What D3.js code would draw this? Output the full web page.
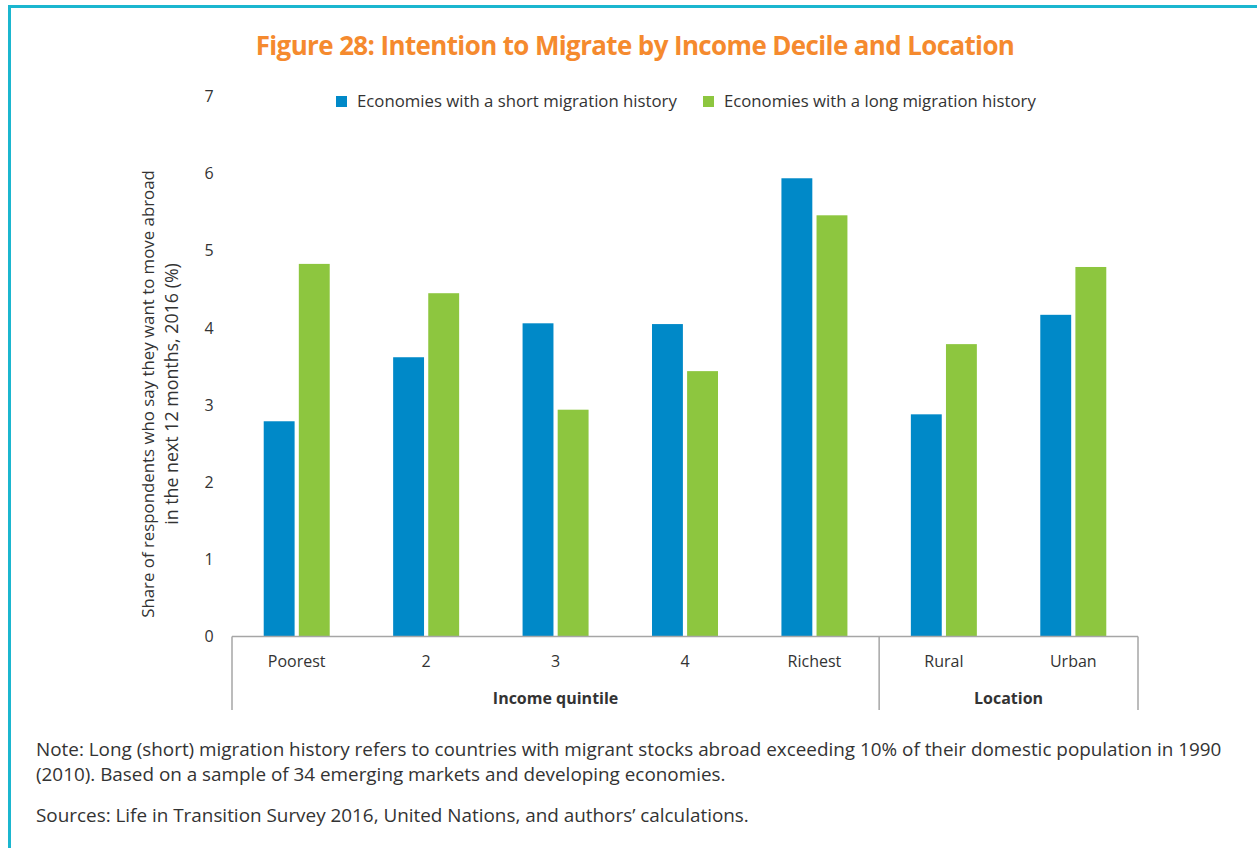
<!DOCTYPE html>
<html>
<head>
<meta charset="utf-8">
<script src="https://cdn.jsdelivr.net/npm/d3@7"></script>
<style>
  body { margin: 0; background: #fff; }
  svg { display: block; font-family: "Open Sans", Lato, sans-serif; }
</style>
</head>
<body>
<script>
(function() {

    // values (percent)
    var categories = ["Poorest", "2", "3", "4", "Richest", "Rural", "Urban"];
    var shortHistory = [2.79, 3.62, 4.06, 4.05, 5.94, 2.88, 4.17];
    var longHistory  = [4.83, 4.45, 2.94, 3.44, 5.46, 3.79, 4.79];
    var seriesNames = ["Economies with a short migration history", "Economies with a long migration history"];
    var seriesColors = ["#0089c8", "#8dc63f"];
    var groups = [
        {name: "Income quintile", from: 0, to: 4},
        {name: "Location", from: 5, to: 6}
    ];
    var yTicks = [0, 1, 2, 3, 4, 5, 6, 7];

    var width = 1257,
        height = 848,
        left = 232,
        right = 1138,
        top = 96.5,
        bottom = 636.5;

    var svg = d3.select("body")
        .append("svg")
        .attr("width", width)
        .attr("height", height);

    // shrink / grow a text's font so it spans the given width
    var fit = function(sel, w) {
        sel.each(function() {
            var fs = parseFloat(d3.select(this).attr("font-size"));
            var len = this.getComputedTextLength();
            if (len > 0) d3.select(this).attr("font-size", fs * w / len);
        });
    };

    // teal frame (top and left edges only)
    svg.append("rect")
        .attr("x", 8).attr("y", 5)
        .attr("width", width - 8).attr("height", 3)
        .attr("fill", "#1bb6cf");
    svg.append("rect")
        .attr("x", 8).attr("y", 5)
        .attr("width", 3).attr("height", height - 5)
        .attr("fill", "#1bb6cf");

    // title
    var title = svg.append("text")
        .attr("x", 635).attr("y", 55)
        .attr("text-anchor", "middle")
        .attr("fill", "#f58a2e")
        .attr("font-weight", "bold")
        .attr("font-size", 24)
        .attr("letter-spacing", -0.6)
        .text("Figure 28: Intention to Migrate by Income Decile and Location");
    fit(title, 756);

    var x = d3.scaleBand()
        .domain(categories)
        .range([left, right])
        .paddingInner(0)
        .paddingOuter(0);

    var y = d3.scaleLinear()
        .domain([0, 7])
        .range([bottom, top]);

    var inner = d3.scaleBand()
        .domain([0, 1])
        .range([0, 66])
        .paddingInner(0.12);

    // y tick labels (no axis line)
    svg.append("g").selectAll("text")
        .data(yTicks)
        .enter().append("text")
        .attr("x", 209)
        .attr("y", function(d) { return y(d); })
        .attr("dy", "0.35em")
        .attr("text-anchor", "middle")
        .attr("font-size", 16)
        .attr("fill", "#333")
        .text(function(d) { return d; });

    // y axis title
    var yt = svg.append("g")
        .attr("transform", "translate(160,394) rotate(-90)");
    fit(yt.append("text").attr("y", -6)
        .attr("text-anchor", "middle")
        .attr("font-size", 16)
        .attr("fill", "#333")
        .text("Share of respondents who say they want to move abroad"), 448);
    fit(yt.append("text").attr("y", 18)
        .attr("text-anchor", "middle")
        .attr("font-size", 16)
        .attr("fill", "#333")
        .text("in the next 12 months, 2016 (%)"), 262);

    // bars
    var seriesData = [shortHistory, longHistory];
    seriesData.forEach(function(vals, s) {
        svg.append("g").selectAll("rect")
            .data(vals)
            .enter().append("rect")
            .attr("x", function(d, i) {
                return x(categories[i]) + (x.bandwidth() - 66) / 2 + inner(s);
            })
            .attr("y", function(d) { return y(d); })
            .attr("width", inner.bandwidth())
            .attr("height", function(d) { return y(0) - y(d); })
            .attr("fill", seriesColors[s]);
    });

    // category axis
    var axisColor = "#a6a6a6";
    svg.append("line")
        .attr("x1", left).attr("x2", right)
        .attr("y1", bottom).attr("y2", bottom)
        .attr("stroke", axisColor).attr("stroke-width", 1.5);

    var seps = [left, x(categories[5]), right];
    svg.append("g").selectAll("line")
        .data(seps)
        .enter().append("line")
        .attr("x1", function(d) { return d; })
        .attr("x2", function(d) { return d; })
        .attr("y1", bottom)
        .attr("y2", 710)
        .attr("stroke", axisColor).attr("stroke-width", 1.5);

    svg.append("g").selectAll("text")
        .data(categories)
        .enter().append("text")
        .attr("x", function(d) { return x(d) + x.bandwidth() / 2; })
        .attr("y", 667)
        .attr("text-anchor", "middle")
        .attr("font-size", 16)
        .attr("fill", "#333")
        .text(function(d) { return d; });

    svg.append("g").selectAll("text")
        .data(groups)
        .enter().append("text")
        .attr("x", function(g) {
            return (x(categories[g.from]) + x(categories[g.to]) + x.bandwidth()) / 2;
        })
        .attr("y", 704)
        .attr("text-anchor", "middle")
        .attr("font-size", 16)
        .attr("font-weight", "bold")
        .attr("fill", "#333")
        .text(function(g) { return g.name; });

    // legend
    var legendX = [336, 703];
    var legendW = [320, 312];
    var legend = svg.append("g").selectAll("g")
        .data(seriesNames)
        .enter().append("g")
        .attr("transform", function(d, i) { return "translate(" + legendX[i] + ",96)"; });
    legend.append("rect")
        .attr("width", 11).attr("height", 11)
        .attr("fill", function(d, i) { return seriesColors[i]; });
    legend.append("text")
        .attr("x", 21).attr("y", 5.5)
        .attr("dy", "0.35em")
        .attr("font-size", 16)
        .attr("fill", "#333")
        .text(function(d) { return d; })
        .each(function(d, i) { fit(d3.select(this), legendW[i]); });

    // notes
    var notes = [
        "Note: Long (short) migration history refers to countries with migrant stocks abroad exceeding 10% of their domestic population in 1990",
        "(2010). Based on a sample of 34 emerging markets and developing economies.",
        "Sources: Life in Transition Survey 2016, United Nations, and authors\u2019 calculations."
    ];
    var noteY = [756, 781, 822];
    var notes0 = svg.append("g").selectAll("text")
        .data(notes)
        .enter().append("text")
        .attr("x", 36)
        .attr("y", function(d, i) { return noteY[i]; })
        .attr("font-size", 17)
        .attr("fill", "#333")
        .text(function(d) { return d; });
    // all note lines share the size that makes line one span its width
    fit(d3.select(notes0.nodes()[0]), 1186);
    notes0.attr("font-size", d3.select(notes0.nodes()[0]).attr("font-size"));

})();
</script>
</body>
</html>
